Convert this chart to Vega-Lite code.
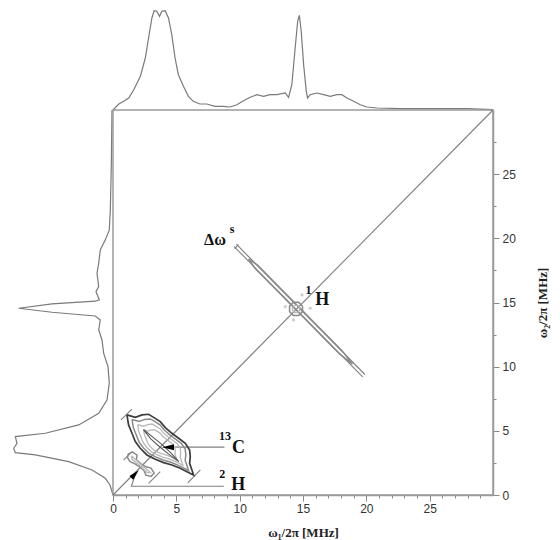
{
  "$schema": "https://vega.github.io/schema/vega-lite/v6.json",
  "padding": 0,
  "background": "white",
  "config": {"view": {"stroke": null}, "concat": {"spacing": 0}},
  "columns": 2,
  "spacing": 0,
  "bounds": "flush",
  "datasets": {
    "top": [
      {"w":0,"i":0},{"w":0.46,"i":6},{"w":0.85,"i":8.7},{"w":1.24,"i":12},{"w":1.63,"i":20},{"w":2.16,"i":33.7},{"w":2.55,"i":52},{"w":2.81,"i":72},{"w":3.07,"i":92},{"w":3.25,"i":99.3},{"w":3.46,"i":98.7},{"w":3.67,"i":93.7},{"w":3.86,"i":98.7},{"w":4.12,"i":99.3},{"w":4.38,"i":92},{"w":4.64,"i":75.3},{"w":4.9,"i":52},{"w":5.16,"i":35.3},{"w":5.56,"i":23.7},{"w":5.95,"i":13.7},{"w":6.34,"i":8.7},{"w":6.86,"i":6},{"w":7.4,"i":6},{"w":8.05,"i":3.7},{"w":8.7,"i":3.7},{"w":9.25,"i":3},{"w":9.78,"i":5.3},{"w":10.3,"i":9.3},{"w":10.83,"i":12.7},{"w":11.36,"i":15.3},{"w":11.88,"i":13.7},{"w":12.41,"i":15.3},{"w":12.94,"i":15.3},{"w":13.6,"i":17},{"w":13.86,"i":12.7},{"w":14.12,"i":25.3},{"w":14.38,"i":62},{"w":14.58,"i":88.7},{"w":14.71,"i":94.7},{"w":14.86,"i":78.7},{"w":15.05,"i":45.3},{"w":15.26,"i":18.7},{"w":15.36,"i":12},{"w":15.57,"i":15.3},{"w":16.1,"i":17},{"w":16.63,"i":15.3},{"w":17.15,"i":13.7},{"w":17.67,"i":15.3},{"w":18.07,"i":15.3},{"w":18.47,"i":12},{"w":19.0,"i":8.7},{"w":19.52,"i":5.3},{"w":20.04,"i":3},{"w":20.84,"i":2},{"w":22.68,"i":1.3},{"w":25.3,"i":1.3},{"w":27.95,"i":1.3},{"w":30,"i":0.3}
    ],
    "left": [
      {"w":30,"i":1},{"w":25.6,"i":1.7},{"w":22.2,"i":2.7},{"w":20.65,"i":3.7},{"w":19.88,"i":7.7},{"w":19.1,"i":12.7},{"w":18.06,"i":14.3},{"w":17.28,"i":16},{"w":16.24,"i":14.3},{"w":15.85,"i":17},{"w":15.2,"i":13.7},{"w":15.1,"i":17.7},{"w":14.89,"i":61},{"w":14.55,"i":94.3},{"w":14.24,"i":61},{"w":13.95,"i":17.7},{"w":13.64,"i":12.7},{"w":12.86,"i":14.3},{"w":12.08,"i":11},{"w":11.04,"i":9.3},{"w":10.0,"i":5},{"w":8.7,"i":3.7},{"w":7.4,"i":6},{"w":6.37,"i":14.3},{"w":5.46,"i":34.3},{"w":4.81,"i":67.7},{"w":4.55,"i":97.7},{"w":4.03,"i":96},{"w":3.64,"i":99.3},{"w":3.3,"i":97.7},{"w":3.12,"i":77.7},{"w":2.6,"i":44.3},{"w":1.95,"i":21},{"w":1.3,"i":7.7},{"w":0.78,"i":3},{"w":0,"i":0}
    ],
    "segs": [
      {"g":"diag","o":0,"a":0,"b":0},{"g":"diag","o":1,"a":30,"b":30},
      {"g":"hA","o":0,"a":9.74,"b":19.54},{"g":"hA","o":1,"a":19.89,"b":9.39},
      {"g":"hB","o":0,"a":9.56,"b":19.36},{"g":"hB","o":1,"a":19.71,"b":9.21},
      {"g":"hS","o":0,"a":9.6,"b":19.2},{"g":"hS","o":1,"a":9.9,"b":19.5},
      {"g":"cT","o":0,"a":0.63,"b":5.85},{"g":"cT","o":1,"a":1.5,"b":6.7},
      {"g":"cB","o":0,"a":5.9,"b":0.95},{"g":"cB","o":1,"a":6.9,"b":1.95},
      {"g":"dT","o":0,"a":0.84,"b":2.73},{"g":"dT","o":1,"a":1.5,"b":3.38},
      {"g":"dB","o":0,"a":2.81,"b":0.91},{"g":"dB","o":1,"a":3.73,"b":1.82},
      {"g":"cA","o":0,"a":4.79,"b":3.73},{"g":"cA","o":1,"a":8.8,"b":3.73},
      {"g":"dA","o":0,"a":1.8,"b":1.7},{"g":"dA","o":1,"a":1.45,"b":0.68},{"g":"dA","o":2,"a":8.75,"b":0.68}
    ],
    "contours": [
      {"g":"hL","lv":2,"o":0,"a":10.7,"b":18.4},{"g":"hL","lv":2,"o":1,"a":11.41,"b":17.91},{"g":"hL","lv":2,"o":2,"a":12.11,"b":17.21},{"g":"hL","lv":2,"o":3,"a":13.11,"b":16.21},{"g":"hL","lv":2,"o":4,"a":14.11,"b":15.21},{"g":"hL","lv":2,"o":5,"a":15.11,"b":14.21},{"g":"hL","lv":2,"o":6,"a":16.11,"b":13.21},{"g":"hL","lv":2,"o":7,"a":17.11,"b":12.21},{"g":"hL","lv":2,"o":8,"a":18.11,"b":11.21},{"g":"hL","lv":2,"o":9,"a":18.9,"b":10.2},{"g":"hL","lv":2,"o":10,"a":17.89,"b":10.99},{"g":"hL","lv":2,"o":11,"a":16.89,"b":11.99},{"g":"hL","lv":2,"o":12,"a":15.89,"b":12.99},{"g":"hL","lv":2,"o":13,"a":14.89,"b":13.99},{"g":"hL","lv":2,"o":14,"a":13.89,"b":14.99},{"g":"hL","lv":2,"o":15,"a":12.89,"b":15.99},{"g":"hL","lv":2,"o":16,"a":11.89,"b":16.99},{"g":"hL","lv":2,"o":17,"a":11.19,"b":17.69},{"g":"hL","lv":2,"o":18,"a":10.7,"b":18.4},
      {"g":"hO","lv":2,"o":0,"a":14.96,"b":14.71},{"g":"hO","lv":2,"o":1,"a":14.66,"b":15.01},{"g":"hO","lv":2,"o":2,"a":14.24,"b":15.01},{"g":"hO","lv":2,"o":3,"a":13.94,"b":14.71},{"g":"hO","lv":2,"o":4,"a":13.94,"b":14.29},{"g":"hO","lv":2,"o":5,"a":14.24,"b":13.99},{"g":"hO","lv":2,"o":6,"a":14.66,"b":13.99},{"g":"hO","lv":2,"o":7,"a":14.96,"b":14.29},{"g":"hO","lv":2,"o":8,"a":14.96,"b":14.71},
      {"g":"hO2","lv":3,"o":0,"a":14.73,"b":14.62},{"g":"hO2","lv":3,"o":1,"a":14.57,"b":14.78},{"g":"hO2","lv":3,"o":2,"a":14.33,"b":14.78},{"g":"hO2","lv":3,"o":3,"a":14.17,"b":14.62},{"g":"hO2","lv":3,"o":4,"a":14.17,"b":14.38},{"g":"hO2","lv":3,"o":5,"a":14.33,"b":14.22},{"g":"hO2","lv":3,"o":6,"a":14.57,"b":14.22},{"g":"hO2","lv":3,"o":7,"a":14.73,"b":14.38},{"g":"hO2","lv":3,"o":8,"a":14.73,"b":14.62},
      {"g":"c1","lv":1,"o":0,"a":1.10,"b":6.24},{"g":"c1","lv":1,"o":1,"a":1.76,"b":6.05},{"g":"c1","lv":1,"o":2,"a":2.29,"b":6.24},{"g":"c1","lv":1,"o":3,"a":2.81,"b":6.29},{"g":"c1","lv":1,"o":4,"a":3.21,"b":6.05},{"g":"c1","lv":1,"o":5,"a":3.73,"b":5.72},{"g":"c1","lv":1,"o":6,"a":4.13,"b":5.25},{"g":"c1","lv":1,"o":7,"a":4.65,"b":4.81},{"g":"c1","lv":1,"o":8,"a":5.18,"b":4.42},{"g":"c1","lv":1,"o":9,"a":5.71,"b":4.03},{"g":"c1","lv":1,"o":10,"a":6.05,"b":3.51},{"g":"c1","lv":1,"o":11,"a":6.10,"b":2.99},{"g":"c1","lv":1,"o":12,"a":6.05,"b":2.47},{"g":"c1","lv":1,"o":13,"a":6.23,"b":1.95},{"g":"c1","lv":1,"o":14,"a":6.36,"b":1.56},{"g":"c1","lv":1,"o":15,"a":5.84,"b":1.82},{"g":"c1","lv":1,"o":16,"a":5.31,"b":2.08},{"g":"c1","lv":1,"o":17,"a":4.65,"b":2.34},{"g":"c1","lv":1,"o":18,"a":4.00,"b":2.52},{"g":"c1","lv":1,"o":19,"a":3.34,"b":2.78},{"g":"c1","lv":1,"o":20,"a":2.68,"b":3.12},{"g":"c1","lv":1,"o":21,"a":2.15,"b":3.64},{"g":"c1","lv":1,"o":22,"a":1.76,"b":4.16},{"g":"c1","lv":1,"o":23,"a":1.50,"b":4.81},{"g":"c1","lv":1,"o":24,"a":1.23,"b":5.46},{"g":"c1","lv":1,"o":25,"a":1.10,"b":6.24},
      {"g":"c2","lv":2,"o":0,"a":1.50,"b":5.89},{"g":"c2","lv":2,"o":1,"a":2.06,"b":5.73},{"g":"c2","lv":2,"o":2,"a":2.51,"b":5.89},{"g":"c2","lv":2,"o":3,"a":2.95,"b":5.93},{"g":"c2","lv":2,"o":4,"a":3.29,"b":5.73},{"g":"c2","lv":2,"o":5,"a":3.73,"b":5.45},{"g":"c2","lv":2,"o":6,"a":4.07,"b":5.05},{"g":"c2","lv":2,"o":7,"a":4.51,"b":4.67},{"g":"c2","lv":2,"o":8,"a":4.96,"b":4.34},{"g":"c2","lv":2,"o":9,"a":5.41,"b":4.01},{"g":"c2","lv":2,"o":10,"a":5.70,"b":3.57},{"g":"c2","lv":2,"o":11,"a":5.75,"b":3.13},{"g":"c2","lv":2,"o":12,"a":5.70,"b":2.69},{"g":"c2","lv":2,"o":13,"a":5.86,"b":2.24},{"g":"c2","lv":2,"o":14,"a":5.97,"b":1.91},{"g":"c2","lv":2,"o":15,"a":5.52,"b":2.13},{"g":"c2","lv":2,"o":16,"a":5.07,"b":2.35},{"g":"c2","lv":2,"o":17,"a":4.51,"b":2.57},{"g":"c2","lv":2,"o":18,"a":3.96,"b":2.73},{"g":"c2","lv":2,"o":19,"a":3.40,"b":2.95},{"g":"c2","lv":2,"o":20,"a":2.84,"b":3.24},{"g":"c2","lv":2,"o":21,"a":2.39,"b":3.68},{"g":"c2","lv":2,"o":22,"a":2.06,"b":4.12},{"g":"c2","lv":2,"o":23,"a":1.84,"b":4.67},{"g":"c2","lv":2,"o":24,"a":1.61,"b":5.23},{"g":"c2","lv":2,"o":25,"a":1.50,"b":5.89},
      {"g":"c3","lv":3,"o":0,"a":1.94,"b":5.49},{"g":"c3","lv":3,"o":1,"a":2.39,"b":5.36},{"g":"c3","lv":3,"o":2,"a":2.75,"b":5.49},{"g":"c3","lv":3,"o":3,"a":3.10,"b":5.53},{"g":"c3","lv":3,"o":4,"a":3.38,"b":5.36},{"g":"c3","lv":3,"o":5,"a":3.73,"b":5.14},{"g":"c3","lv":3,"o":6,"a":4.00,"b":4.82},{"g":"c3","lv":3,"o":7,"a":4.36,"b":4.52},{"g":"c3","lv":3,"o":8,"a":4.72,"b":4.25},{"g":"c3","lv":3,"o":9,"a":5.08,"b":3.99},{"g":"c3","lv":3,"o":10,"a":5.31,"b":3.64},{"g":"c3","lv":3,"o":11,"a":5.34,"b":3.28},{"g":"c3","lv":3,"o":12,"a":5.31,"b":2.93},{"g":"c3","lv":3,"o":13,"a":5.43,"b":2.57},{"g":"c3","lv":3,"o":14,"a":5.52,"b":2.31},{"g":"c3","lv":3,"o":15,"a":5.17,"b":2.49},{"g":"c3","lv":3,"o":16,"a":4.80,"b":2.66},{"g":"c3","lv":3,"o":17,"a":4.36,"b":2.84},{"g":"c3","lv":3,"o":18,"a":3.91,"b":2.96},{"g":"c3","lv":3,"o":19,"a":3.47,"b":3.14},{"g":"c3","lv":3,"o":20,"a":3.02,"b":3.37},{"g":"c3","lv":3,"o":21,"a":2.66,"b":3.72},{"g":"c3","lv":3,"o":22,"a":2.39,"b":4.08},{"g":"c3","lv":3,"o":23,"a":2.21,"b":4.52},{"g":"c3","lv":3,"o":24,"a":2.03,"b":4.96},{"g":"c3","lv":3,"o":25,"a":1.94,"b":5.49},
      {"g":"c3b","lv":3,"o":0,"a":2.42,"b":5.07},{"g":"c3b","lv":3,"o":1,"a":2.75,"b":4.98},{"g":"c3b","lv":3,"o":2,"a":3.01,"b":5.07},{"g":"c3b","lv":3,"o":3,"a":3.27,"b":5.10},{"g":"c3b","lv":3,"o":4,"a":3.47,"b":4.98},{"g":"c3b","lv":3,"o":5,"a":3.73,"b":4.81},{"g":"c3b","lv":3,"o":6,"a":3.93,"b":4.58},{"g":"c3b","lv":3,"o":7,"a":4.19,"b":4.36},{"g":"c3b","lv":3,"o":8,"a":4.46,"b":4.16},{"g":"c3b","lv":3,"o":9,"a":4.72,"b":3.97},{"g":"c3b","lv":3,"o":10,"a":4.89,"b":3.71},{"g":"c3b","lv":3,"o":11,"a":4.92,"b":3.45},{"g":"c3b","lv":3,"o":12,"a":4.89,"b":3.19},{"g":"c3b","lv":3,"o":13,"a":4.98,"b":2.93},{"g":"c3b","lv":3,"o":14,"a":5.05,"b":2.73},{"g":"c3b","lv":3,"o":15,"a":4.79,"b":2.86},{"g":"c3b","lv":3,"o":16,"a":4.52,"b":2.99},{"g":"c3b","lv":3,"o":17,"a":4.19,"b":3.12},{"g":"c3b","lv":3,"o":18,"a":3.87,"b":3.21},{"g":"c3b","lv":3,"o":19,"a":3.54,"b":3.34},{"g":"c3b","lv":3,"o":20,"a":3.21,"b":3.51},{"g":"c3b","lv":3,"o":21,"a":2.94,"b":3.77},{"g":"c3b","lv":3,"o":22,"a":2.75,"b":4.03},{"g":"c3b","lv":3,"o":23,"a":2.62,"b":4.36},{"g":"c3b","lv":3,"o":24,"a":2.48,"b":4.68},{"g":"c3b","lv":3,"o":25,"a":2.42,"b":5.07},
      {"g":"c4","lv":4,"o":0,"a":2.4,"b":5.1},{"g":"c4","lv":4,"o":1,"a":3.1,"b":4.55},{"g":"c4","lv":4,"o":2,"a":3.85,"b":3.95},{"g":"c4","lv":4,"o":3,"a":4.55,"b":3.3},{"g":"c4","lv":4,"o":4,"a":5.2,"b":2.6},{"g":"c4","lv":4,"o":5,"a":4.45,"b":3.15},{"g":"c4","lv":4,"o":6,"a":3.75,"b":3.7},{"g":"c4","lv":4,"o":7,"a":3.0,"b":4.35},{"g":"c4","lv":4,"o":8,"a":2.4,"b":5.1},
      {"g":"d1","lv":2,"o":0,"a":1.2,"b":3.2},{"g":"d1","lv":2,"o":1,"a":1.55,"b":3.35},{"g":"d1","lv":2,"o":2,"a":1.9,"b":3.1},{"g":"d1","lv":2,"o":3,"a":1.85,"b":2.75},{"g":"d1","lv":2,"o":4,"a":2.2,"b":2.45},{"g":"d1","lv":2,"o":5,"a":2.6,"b":2.2},{"g":"d1","lv":2,"o":6,"a":3.0,"b":2.1},{"g":"d1","lv":2,"o":7,"a":3.25,"b":1.7},{"g":"d1","lv":2,"o":8,"a":3.0,"b":1.45},{"g":"d1","lv":2,"o":9,"a":2.6,"b":1.55},{"g":"d1","lv":2,"o":10,"a":2.45,"b":1.9},{"g":"d1","lv":2,"o":11,"a":2.1,"b":2.2},{"g":"d1","lv":2,"o":12,"a":1.7,"b":2.45},{"g":"d1","lv":2,"o":13,"a":1.35,"b":2.6},{"g":"d1","lv":2,"o":14,"a":1.15,"b":2.9},{"g":"d1","lv":2,"o":15,"a":1.2,"b":3.2},
      {"g":"d2","lv":3,"o":0,"a":1.45,"b":3.05},{"g":"d2","lv":3,"o":1,"a":1.7,"b":2.85},{"g":"d2","lv":3,"o":2,"a":2.3,"b":2.3},{"g":"d2","lv":3,"o":3,"a":2.95,"b":1.75},{"g":"d2","lv":3,"o":4,"a":2.7,"b":1.75},{"g":"d2","lv":3,"o":5,"a":2.1,"b":2.3},{"g":"d2","lv":3,"o":6,"a":1.5,"b":2.8},{"g":"d2","lv":3,"o":7,"a":1.45,"b":3.05}
    ]
  },
  "concat": [
    {
      "width": 113, "height": 110,
      "data": {"values": [{"k": 1}]},
      "mark": {"type": "point", "opacity": 0},
      "encoding": {}
    },
    {
      "width": 380, "height": 110,
      "data": {"name": "top"},
      "mark": {"type": "line", "color": "#7a7a7a", "strokeWidth": 1.2},
      "encoding": {
        "x": {"field": "w", "type": "quantitative", "scale": {"domain": [0, 30], "nice": false}, "axis": null},
        "y": {"field": "i", "type": "quantitative", "scale": {"domain": [0, 110], "nice": false}, "axis": null}
      }
    },
    {
      "width": 113, "height": 385,
      "data": {"name": "left"},
      "mark": {"type": "line", "color": "#7a7a7a", "strokeWidth": 1.2},
      "encoding": {
        "x": {"field": "i", "type": "quantitative", "scale": {"domain": [0, 113], "nice": false, "reverse": true}, "axis": null},
        "y": {"field": "w", "type": "quantitative", "scale": {"domain": [0, 30], "nice": false}, "axis": null},
        "order": {"field": "w", "type": "quantitative"}
      }
    },
    {
      "width": 380, "height": 385,
      "view": {"stroke": "#9a9a9a", "strokeWidth": 1.5},
      "encoding": {
        "x": {"field": "a", "type": "quantitative", "scale": {"domain": [0, 30], "nice": false},
          "axis": {"title": "ω₁/2π [MHz]", "values": [0,1,2,3,4,5,6,7,8,9,10,11,12,13,14,15,16,17,18,19,20,21,22,23,24,25,26,27,28,29],
            "labelExpr": "datum.value % 5 === 0 ? datum.label : ''", "grid": false,
            "tickSize": {"condition": {"test": "datum.value % 5 === 0", "value": 6}, "value": 3},
            "tickColor": "#888", "domainColor": "#9a9a9a", "domainWidth": 1.5,
            "labelFont": "Liberation Sans", "labelFontSize": 12, "labelColor": "#333", "labelPadding": 2, "labelFlush": false,
            "titleFont": "Liberation Serif", "titleFontWeight": "bold", "titleFontSize": 13, "titleColor": "#222", "titlePadding": 12}},
        "y": {"field": "b", "type": "quantitative", "scale": {"domain": [0, 30], "nice": false},
          "axis": {"orient": "right", "title": "ω₂/2π [MHz]", "values": [0,2.5,5,7.5,10,12.5,15,17.5,20,22.5,25,27.5],
            "labelExpr": "datum.value % 5 === 0 ? datum.label : ''", "grid": false,
            "tickSize": {"condition": {"test": "datum.value % 5 === 0", "value": 6}, "value": 3},
            "tickColor": "#888", "domainColor": "#9a9a9a", "domainWidth": 1.5,
            "labelFont": "Liberation Sans", "labelFontSize": 12, "labelColor": "#333", "labelPadding": 3, "labelFlush": false,
            "titleFont": "Liberation Serif", "titleFontWeight": "bold", "titleFontSize": 13, "titleColor": "#222", "titleAngle": 270, "titlePadding": 34}}
      },
      "layer": [
        {
          "data": {"name": "segs"},
          "mark": {"type": "line", "color": "#808080", "strokeWidth": 1.1},
          "encoding": {"detail": {"field": "g"}, "order": {"field": "o", "type": "quantitative"}}
        },
        {
          "data": {"name": "contours"},
          "mark": {"type": "line"},
          "encoding": {
            "detail": {"field": "g"},
            "order": {"field": "o", "type": "quantitative"},
            "color": {"field": "lv", "type": "ordinal", "scale": {"domain": [1,2,3,4], "range": ["#3c3c3c","#8a8a8a","#b8b8b8","#5a5a5a"]}, "legend": null},
            "strokeWidth": {"field": "lv", "type": "ordinal", "scale": {"domain": [1,2,3,4], "range": [1.7,1.1,1,1.3]}, "legend": null}
          }
        },
        {
          "data": {"values": [{"a":13.6,"b":14.68},{"a":15.57,"b":14.55},{"a":14.92,"b":15.59},{"a":14.25,"b":13.64}]},
          "mark": {"type": "point", "filled": true, "color": "#b5b5b5", "size": 10}
        },
        {
          "data": {"values": [{"a": 4.34, "b": 3.73}]},
          "mark": {"type": "point", "shape": "M-1,0L1,-0.5L1,0.5Z", "filled": true, "color": "#000", "size": 144, "opacity": 1}
        },
        {
          "data": {"values": [{"a": 1.74, "b": 1.63}]},
          "mark": {"type": "point", "shape": "M-1,0L1,-0.5L1,0.5Z", "filled": true, "color": "#000", "size": 110, "angle": 135, "opacity": 1}
        },
        {
          "data": {"values": [{"t":"C","a":9.9,"b":3.7},{"t":"H","a":9.89,"b":0.78},{"t":"H","a":16.52,"b":15.2}]},
          "mark": {"type": "text", "font": "Liberation Serif", "fontWeight": "bold", "fontSize": 18, "color": "#111"},
          "encoding": {"text": {"field": "t"}}
        },
        {
          "data": {"values": [{"t":"13","a":8.85,"b":4.6},{"t":"2","a":8.62,"b":1.64},{"t":"1","a":15.43,"b":15.98},{"t":"s","a":9.4,"b":20.7}]},
          "mark": {"type": "text", "font": "Liberation Serif", "fontWeight": "bold", "fontSize": 12, "color": "#111"},
          "encoding": {"text": {"field": "t"}}
        },
        {
          "data": {"values": [{"t":"Δω","a":8.05,"b":19.85}]},
          "mark": {"type": "text", "font": "Liberation Serif", "fontWeight": "bold", "fontSize": 16, "color": "#111"},
          "encoding": {"text": {"field": "t"}}
        }
      ]
    }
  ]
}
